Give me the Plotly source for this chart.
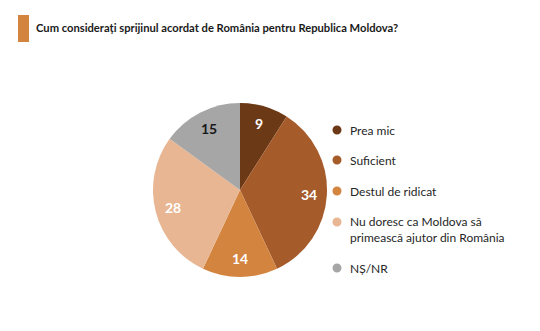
import math
import plotly.graph_objects as go

# Survey answers and their shares (%)
categories = ["Prea mic", "Suficient", "Destul de ridicat",
              "Nu doresc ca Moldova să<br>primească ajutor din România", "NȘ/NR"]
values = [9, 34, 14, 28, 15]
colors = ["#6b3915", "#a65b2b", "#d3843f", "#e8b692", "#a6a6a6"]
text_colors = ["white", "white", "white", "white", "#1a1a1a"]

title = "Cum considerați sprijinul acordat de România pentru Republica Moldova?"
FONT = "Lato"
W, H = 540, 331

# Pie placement (pixels)
cx, cy, r = 240, 190, 87

fig = go.Figure()
fig.add_trace(go.Pie(
    labels=categories,
    values=values,
    sort=False,
    direction="clockwise",
    rotation=0,
    marker=dict(colors=colors, line=dict(width=0)),
    textinfo="none",
    domain=dict(x=[(cx - r) / W, (cx + r) / W], y=[1 - (cy + r) / H, 1 - (cy - r) / H]),
    showlegend=False,
    hoverinfo="label+value",
))

# Value labels placed along each slice's bisector
total = sum(values)
cum = 0
for v, tc in zip(values, text_colors):
    mid = (cum + v / 2) / total * 2 * math.pi
    cum += v
    px = cx + 0.79 * r * math.sin(mid)
    py = cy - 0.79 * r * math.cos(mid)
    fig.add_annotation(x=px / W, y=1 - py / H, xref="paper", yref="paper",
                       text=str(v), showarrow=False, xanchor="center", yanchor="middle",
                       font=dict(family=FONT, size=14, color=tc, weight="bold"))

# Legend drawn as circle markers with labels
leg_y = [130, 160, 191, 222, 268]
leg_text_y = [130, 160, 191, 229.5, 268]
for i, name in enumerate(categories):
    yc = 1 - leg_y[i] / H
    fig.add_shape(type="circle", xref="paper", yref="paper",
                  x0=(337 - 4.5) / W, x1=(337 + 4.5) / W,
                  y0=yc - 4.5 / H, y1=yc + 4.5 / H,
                  fillcolor=colors[i], line=dict(width=0))
    fig.add_annotation(x=348 / W, y=1 - leg_text_y[i] / H, xref="paper", yref="paper",
                       text=name, showarrow=False, xanchor="left", yanchor="middle",
                       align="left", font=dict(family=FONT, size=12, color="#262626"))

# Title with accent bar
fig.add_shape(type="rect", xref="paper", yref="paper",
              x0=18 / W, x1=29 / W, y0=1 - 42 / H, y1=1 - 15 / H,
              fillcolor="#d3843f", line=dict(width=0))
fig.add_annotation(x=34 / W, y=1 - 28 / H, xref="paper", yref="paper",
                   text=title, showarrow=False, xanchor="left", yanchor="middle",
                   font=dict(family=FONT, size=11.2, color="#1a1a1a", weight="bold"))

fig.update_layout(
    width=W, height=H,
    margin=dict(l=0, r=0, t=0, b=0),
    paper_bgcolor="white", plot_bgcolor="white",
)

fig.write_html("out.html")
